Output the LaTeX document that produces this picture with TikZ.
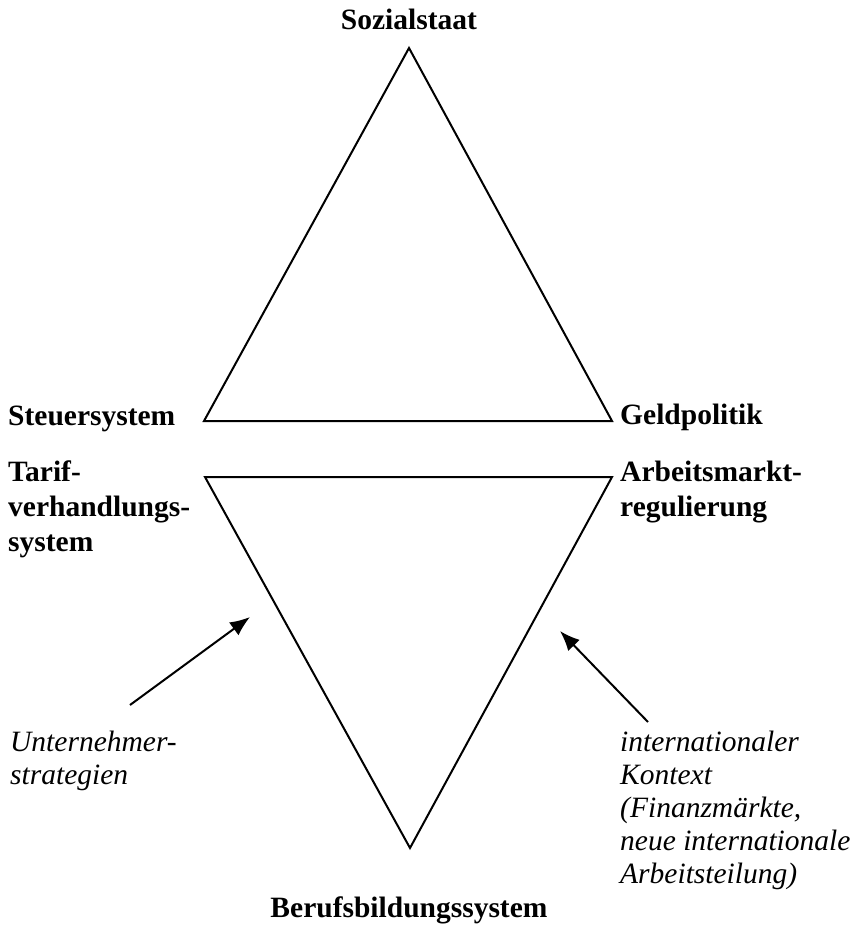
\documentclass[tikz,border=0pt]{standalone}
\usepackage{fontspec}
\setmainfont{Liberation Serif}
\usetikzlibrary{arrows.meta}

\tikzset{
  lbl/.style={inner sep=0pt, anchor=base west, align=left, font=\fontsize{29.5}{35}\selectfont\bfseries},
  ctr/.style={lbl, anchor=base},
  infl/.style={lbl, font=\fontsize{29.5}{33}\selectfont\itshape},
  tri/.style={line width=2pt, line join=miter},
  push/.style={line width=2pt, -{Latex[length=20pt,width=16pt]}}
}

\begin{document}
\begin{tikzpicture}[x=1pt,y=-1pt]
  \useasboundingbox (0,0) rectangle (852,927);
  \coordinate (top) at (409,48);
  \coordinate (tl) at (204,421);
  \coordinate (tr) at (612,421);
  \coordinate (bl) at (205,477);
  \coordinate (br) at (612,477);
  \coordinate (bot) at (410,848);
  \draw[tri] (top) -- (tr) -- (tl) -- cycle;
  \draw[tri] (bl) -- (br) -- (bot) -- cycle;

  \node[ctr] (sozial) at (409,29) {Sozialstaat};
  \node[lbl] (steuer) at (8,425) {Steuersystem};
  \node[lbl] (geld) at (620,424) {Geldpolitik};
  \node[lbl] (tarif) at (8,551) {Tarif-\\verhandlungs-\\system};
  \node[lbl] (amr) at (620,516) {Arbeitsmarkt-\\regulierung};
  \node[ctr] (beruf) at (409,917) {Berufsbildungssystem};
  \node[infl] (untern) at (10,784) {Unternehmer-\\strategien};
  \node[infl] (intl) at (620,883) {internationaler\\Kontext\\(Finanzm\"arkte,\\neue internationale\\Arbeitsteilung)};

  \coordinate (ua) at (130,705);
  \coordinate (ub) at (250,617);
  \coordinate (ia) at (648,722);
  \coordinate (ib) at (560,631);
  \draw[push] (ua) -- (ub);
  \draw[push] (ia) -- (ib);
\end{tikzpicture}
\end{document}
